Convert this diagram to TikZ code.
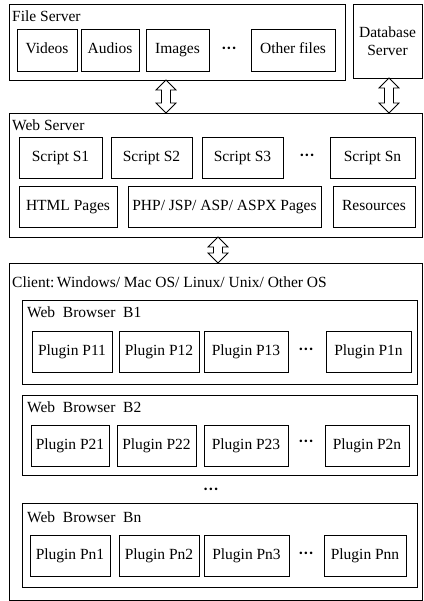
\documentclass[tikz,border=0pt]{standalone}
\usepackage{fontspec}
\setmainfont{Liberation Serif}
\usetikzlibrary{calc}

\begin{document}
\begin{tikzpicture}[
    x=1pt, y=-1pt,
    box/.style={rectangle, draw, line width=0.8pt, inner sep=0pt, outer sep=0pt, minimum height=41, text height=10.5pt, text depth=3pt, font=\fontsize{15.5}{18}\selectfont, align=center},
    outer/.style={rectangle, draw, line width=0.8pt, inner sep=0pt, outer sep=0pt},
    title/.style={anchor=base west, inner sep=0pt, font=\fontsize{15.5}{18}\selectfont},
    dots/.style={inner sep=0pt, font=\fontsize{15.5}{18}\selectfont},
    fatarrow/.style={draw, line width=0.8pt, fill=white, to path={let \p1=(\tikztostart), \p2=(\tikztotarget) in
        (\x1,\y1) -- (\x1+10pt,\y1-10pt) -- (\x1+4.5pt,\y1-10pt) -- (\x1+4.5pt,\y2+10pt) -- (\x1+10pt,\y2+10pt)
        -- (\x1,\y2) -- (\x1-10pt,\y2+10pt) -- (\x1-4.5pt,\y2+10pt) -- (\x1-4.5pt,\y1-10pt) -- (\x1-10pt,\y1-10pt) -- cycle}}
]
    \useasboundingbox (0,0) rectangle (423,601);

    % servers
    \node [outer, minimum width=336, minimum height=76] (fs) at (177,42) {};
    \node [title] (fst) at (12,22) {File Server};
    \node [box, minimum width=60, minimum height=42] (videos) at (47,50) {Videos};
    \node [box, minimum width=58, minimum height=42] (audios) at (110,50) {Audios};
    \node [box, minimum width=63, minimum height=42] (images) at (177.5,50) {Images};
    \node [dots] (fdots) at (229,50) {\textbf{···}};
    \node [box, minimum width=84, minimum height=42] (others) at (293,50) {Other files};
    \node [outer, minimum width=69, minimum height=74, font=\fontsize{15.5}{18}\selectfont, align=center] (db) at (387.5,41) {Database\\Server};

    \node [outer, minimum width=413, minimum height=124] (ws) at (215.5,175) {};
    \node [title] (wst) at (12,131) {Web Server};
    \node [box, minimum width=83] (s1) at (60.5,157.5) {Script S1};
    \node [box, minimum width=81] (s2) at (151.5,157.5) {Script S2};
    \node [box, minimum width=81] (s3) at (242.5,157.5) {Script S3};
    \node [dots] (sdots) at (307,157.5) {\textbf{···}};
    \node [box, minimum width=85] (sn) at (372.5,157.5) {Script Sn};
    \node [box, minimum width=98] (html) at (68,206.5) {HTML Pages};
    \node [box, minimum width=193] (php) at (224.5,206.5) {PHP/ JSP/ ASP/ ASPX Pages};
    \node [box, minimum width=82] (res) at (374,206.5) {Resources};

    % client
    \node [outer, minimum width=413, minimum height=337] (cl) at (215.5,431.5) {};
    \node [title] (clt) at (12,287) {Client:\,Windows/ Mac OS/ Linux/ Unix/ Other OS};

    \node [outer, minimum width=395, minimum height=84] (b1) at (219.5,342) {};
    \node [title] (b1t) at (27,317) {Web\ \ Browser\ \ B1};
    \node [box, minimum width=80] (p11) at (72,351.5) {Plugin P11};
    \node [box, minimum width=80] (p12) at (159,351.5) {Plugin P12};
    \node [box, minimum width=84] (p13) at (246,351.5) {Plugin P13};
    \node [dots] (d1) at (306,351.5) {\textbf{···}};
    \node [box, minimum width=85] (p1n) at (368.5,351.5) {Plugin P1n};

    \node [outer, minimum width=395, minimum height=80] (b2) at (219.5,435) {};
    \node [title] (b2t) at (27,412) {Web\ \ Browser\ \ B2};
    \node [box, minimum width=78] (p21) at (70,445.5) {Plugin P21};
    \node [box, minimum width=79] (p22) at (156.5,445.5) {Plugin P22};
    \node [box, minimum width=84] (p23) at (246,445.5) {Plugin P23};
    \node [dots] (d2) at (306,443) {\textbf{···}};
    \node [box, minimum width=84] (p2n) at (367,445.5) {Plugin P2n};

    \node [dots] (vdots) at (211,491) {\textbf{···}};

    \node [outer, minimum width=395, minimum height=84] (bn) at (219.5,545) {};
    \node [title] (bnt) at (27,522) {Web\ \ Browser\ \ Bn};
    \node [box, minimum width=80] (pn1) at (70,555.5) {Plugin Pn1};
    \node [box, minimum width=80] (pn2) at (159,555.5) {Plugin Pn2};
    \node [box, minimum width=85] (pn3) at (246.5,555.5) {Plugin Pn3};
    \node [dots] (dn) at (306,555.5) {\textbf{···}};
    \node [box, minimum width=82] (pnn) at (365,555.5) {Plugin Pnn};

    % links
    \draw [fatarrow] ($(fs.south)+(-11,0)$) to (ws.north);
    \draw [fatarrow] ($(db.south)+(1.5,0)$) to (ws.north);
    \draw [fatarrow] ($(ws.south)+(2.5,0)$) to (cl.north);
\end{tikzpicture}
\end{document}
